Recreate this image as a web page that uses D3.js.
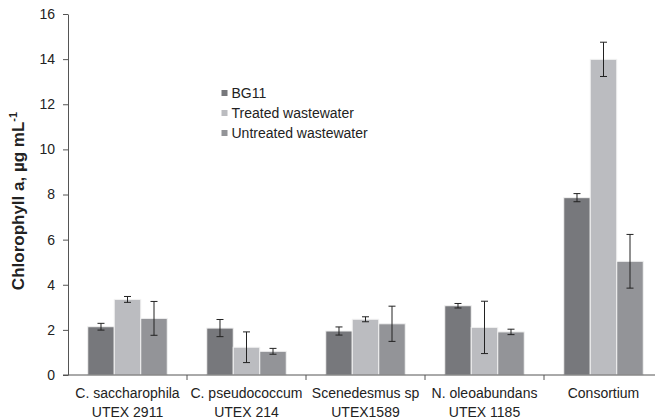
<!DOCTYPE html>
<html>
<head>
<meta charset="utf-8">
<script src="https://cdn.jsdelivr.net/npm/d3@7"></script>
<style>
  html, body { margin: 0; padding: 0; background: #fff; }
  svg { display: block; font-family: "Liberation Sans", Arial, sans-serif; }
</style>
</head>
<body>
<svg id="chart" width="655" height="418"></svg>
<script>
// Strains (two-line labels) and measured chlorophyll a, µg/mL
const categories = ["C. saccharophila|UTEX 2911", "C. pseudococcum|UTEX 214", "Scenedesmus sp|UTEX1589", "N. oleoabundans|UTEX 1185", "Consortium"];
const series = ["BG11", "Treated wastewater", "Untreated wastewater"];
const bg11 = [2.14, 2.08, 1.95, 3.07, 7.86];
const bg11Err = [0.15, 0.38, 0.18, 0.10, 0.18];
const treated = [3.35, 1.23, 2.47, 2.11, 13.99];
const treatedErr = [0.13, 0.68, 0.11, 1.16, 0.76];
const untreated = [2.51, 1.05, 2.27, 1.91, 5.04];
const untreatedErr = [0.75, 0.13, 0.78, 0.12, 1.19];
const yTicks = [0, 2, 4, 6, 8, 10, 12, 14, 16];
const colors = ["#77787c", "#bbbcc0", "#939498"];

const values = [bg11, treated, untreated];
const errors = [bg11Err, treatedErr, untreatedErr];

const svg = d3.select("#chart");
const plotLeft = 68, plotRight = 663, plotTop = 14, plotBottom = 375;

const x0 = d3.scaleBand().domain(categories).range([plotLeft, plotRight]).padding(0);
const x1 = d3.scaleBand().domain(series).range([0, x0.bandwidth()]).paddingInner(0).paddingOuter(0.745);
const y = d3.scaleLinear().domain([0, 16]).range([plotBottom, plotTop]);

// bars
const groups = svg.append("g").selectAll("g")
  .data(categories)
  .join("g")
  .attr("transform", d => `translate(${x0(d)},0)`);

series.forEach((s, si) => {
  groups.append("rect")
    .attr("x", x1(s))
    .attr("width", x1.bandwidth())
    .attr("y", (d, ci) => y(values[si][ci]))
    .attr("height", (d, ci) => y(0) - y(values[si][ci]))
    .attr("fill", colors[si])
    .attr("stroke", "#f2f2f2")
    .attr("stroke-width", 1);
});

// error bars
series.forEach((s, si) => {
  const cx = x1(s) + x1.bandwidth() / 2;
  const eb = groups.append("g").attr("stroke", "#222").attr("stroke-width", 1).attr("fill", "none");
  eb.append("line")
    .attr("x1", cx).attr("x2", cx)
    .attr("y1", (d, ci) => y(values[si][ci] + errors[si][ci]))
    .attr("y2", (d, ci) => y(values[si][ci] - errors[si][ci]));
  [1, -1].forEach(sign => {
    eb.append("line")
      .attr("x1", cx - 3.5).attr("x2", cx + 3.5)
      .attr("y1", (d, ci) => y(values[si][ci] + sign * errors[si][ci]))
      .attr("y2", (d, ci) => y(values[si][ci] + sign * errors[si][ci]));
  });
});

// y axis
const yAxis = svg.append("g")
  .attr("transform", `translate(${plotLeft},0)`)
  .call(d3.axisLeft(y).tickValues(yTicks).tickSize(5).tickSizeOuter(0).tickPadding(8));
yAxis.select(".domain").attr("stroke", "#555");
yAxis.selectAll(".tick line").attr("stroke", "#555");
yAxis.selectAll(".tick text").attr("font-size", 14).attr("fill", "#222")
  .attr("font-family", "'Liberation Sans', Arial, sans-serif");

// x axis with ticks between categories
const xAxis = svg.append("g").attr("transform", `translate(0,${plotBottom})`);
xAxis.append("line").attr("x1", plotLeft - 5).attr("x2", plotRight).attr("y1", 0).attr("y2", 0)
  .attr("stroke", "#555");
xAxis.selectAll(".sep")
  .data(categories.slice(1))
  .join("line")
  .attr("x1", d => x0(d)).attr("x2", d => x0(d))
  .attr("y1", 0).attr("y2", 5)
  .attr("stroke", "#555");

const xl = xAxis.selectAll(".lab")
  .data(categories)
  .join("text")
  .attr("text-anchor", "middle")
  .attr("font-size", 14)
  .attr("fill", "#222");
xl.each(function(d) {
  const parts = d.split("|");
  const t = d3.select(this);
  const cx = x0(d) + x0.bandwidth() / 2;
  parts.forEach((p, i) => {
    t.append("tspan").attr("x", cx).attr("y", 23 + i * 18.5).text(p);
  });
});

// y title
const yt = svg.append("text")
  .attr("transform", "translate(24,201) rotate(-90)")
  .attr("text-anchor", "middle")
  .attr("font-size", 17)
  .attr("font-weight", "bold")
  .attr("fill", "#222");
yt.append("tspan").text("Chlorophyll a, µg mL");
yt.append("tspan").attr("font-size", 11).attr("dy", -7).text("-1");

// legend
const legend = svg.append("g").attr("transform", "translate(221.5,93)");
series.forEach((s, i) => {
  const row = legend.append("g").attr("transform", `translate(0,${i * 20})`);
  row.append("rect").attr("x", 0).attr("y", -3).attr("width", 6).attr("height", 6).attr("fill", colors[i]);
  row.append("text").attr("x", 10).attr("y", 5).attr("font-size", 14).attr("fill", "#222").text(s);
});
</script>
</body>
</html>
